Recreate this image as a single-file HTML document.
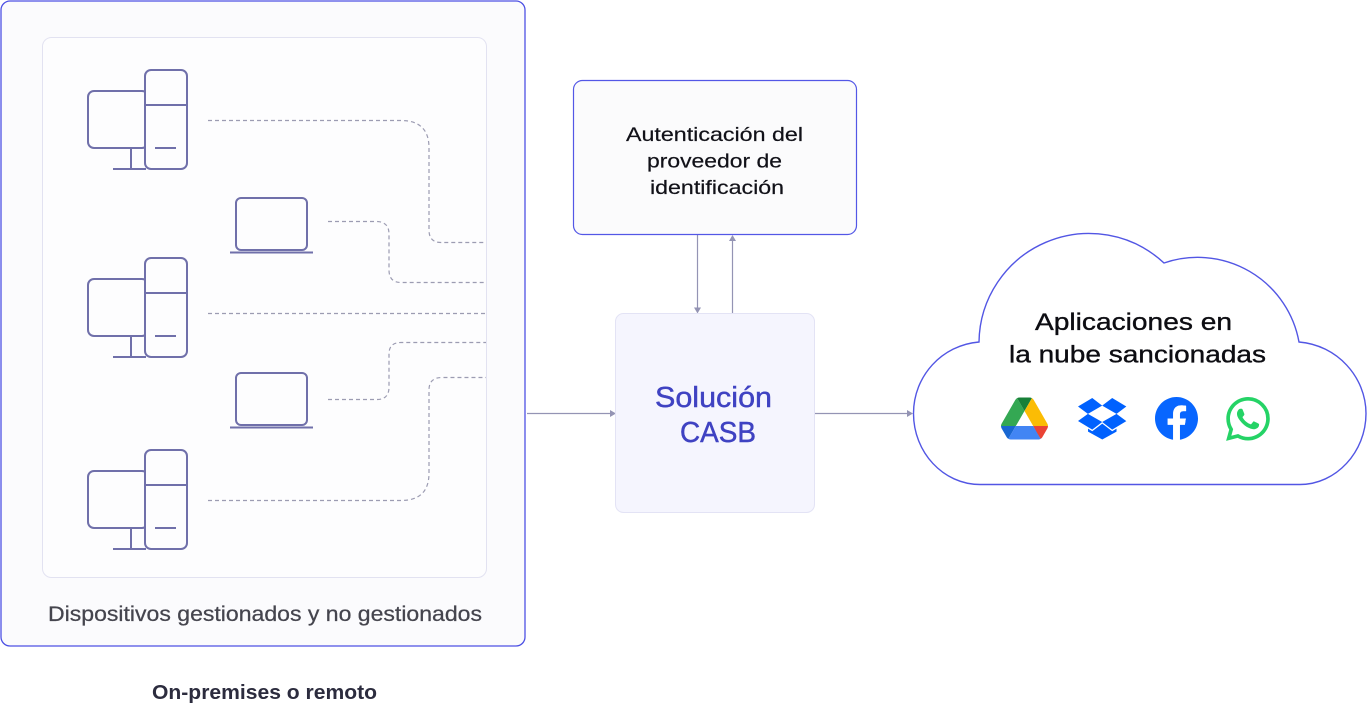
<!DOCTYPE html>
<html>
<head>
<meta charset="utf-8">
<style>
  html,body{margin:0;padding:0;background:#ffffff;}
  svg{display:block;}
  text{font-family:"Liberation Sans", Arial, sans-serif;}
</style>
</head>
<body>
<svg width="1367" height="705" viewBox="0 0 1367 705" xmlns="http://www.w3.org/2000/svg">
  <!-- Outer box -->
  <rect x="1" y="1" width="524" height="645" rx="9" fill="#fbfbfd" stroke="#4d51e4" stroke-width="1.3"/>
  <!-- Inner box -->
  <rect x="42.5" y="37.5" width="444" height="540" rx="9" fill="#fdfdfe" stroke="#e2e2f1" stroke-width="1"/>

  <!-- Dashed connectors -->
  <g fill="none" stroke="#9c9cb2" stroke-width="1.2" stroke-dasharray="4 3">
    <path d="M208 120.5 H401 Q429 120.5 429 148 V230 Q429 242.5 441 242.5 H486"/>
    <path d="M328 221.5 H376 Q389 221.5 389 234 V270 Q389 282.5 401 282.5 H486"/>
    <path d="M208 313.5 H486"/>
    <path d="M328 399.5 H377 Q389 399.5 389 387 V354 Q389 342.5 401 342.5 H486"/>
    <path d="M208 500.5 H401 Q429 500.5 429 473 V390 Q429 377.5 442 377.5 H486"/>
  </g>

  <g fill="#fdfdfe" stroke="#7070aa" stroke-width="2" stroke-linecap="butt">
    <!-- Desktop 1 -->
    <g transform="translate(0,0)">
      <rect x="88" y="91" width="60" height="57" rx="6"/>
      <line x1="131" y1="148" x2="131" y2="169"/>
      <line x1="113" y1="169" x2="146" y2="169"/>
      <rect x="145" y="70" width="42" height="99" rx="6"/>
      <line x1="145" y1="105" x2="187" y2="105"/>
      <line x1="155" y1="148" x2="176" y2="148"/>
    </g>
    <!-- Desktop 2 -->
    <g transform="translate(0,188)">
      <rect x="88" y="91" width="60" height="57" rx="6"/>
      <line x1="131" y1="148" x2="131" y2="169"/>
      <line x1="113" y1="169" x2="146" y2="169"/>
      <rect x="145" y="70" width="42" height="99" rx="6"/>
      <line x1="145" y1="105" x2="187" y2="105"/>
      <line x1="155" y1="148" x2="176" y2="148"/>
    </g>
    <!-- Desktop 3 -->
    <g transform="translate(0,380)">
      <rect x="88" y="91" width="60" height="57" rx="6"/>
      <line x1="131" y1="148" x2="131" y2="169"/>
      <line x1="113" y1="169" x2="146" y2="169"/>
      <rect x="145" y="70" width="42" height="99" rx="6"/>
      <line x1="145" y1="105" x2="187" y2="105"/>
      <line x1="155" y1="148" x2="176" y2="148"/>
    </g>
    <!-- Laptop 1 -->
    <g transform="translate(0,0)">
      <rect x="236" y="198" width="71" height="52" rx="5"/>
      <line x1="230" y1="252.5" x2="313" y2="252.5"/>
    </g>
    <!-- Laptop 2 -->
    <g transform="translate(0,175)">
      <rect x="236" y="198" width="71" height="52" rx="5"/>
      <line x1="230" y1="252.5" x2="313" y2="252.5"/>
    </g>
  </g>

  <!-- Labels in left panel -->
  <text x="48" y="621" font-size="21" fill="#45454e" stroke="#45454e" stroke-width="0.25" textLength="434" lengthAdjust="spacingAndGlyphs">Dispositivos gestionados y no gestionados</text>
  <text x="152" y="699" font-size="20" font-weight="bold" fill="#2c2c3e" textLength="225" lengthAdjust="spacingAndGlyphs">On-premises o remoto</text>

  <!-- Arrows -->
  <g stroke="#9494b4" stroke-width="1.2" fill="none">
    <line x1="527" y1="413.5" x2="611" y2="413.5"/>
    <line x1="815" y1="413.5" x2="908" y2="413.5"/>
    <line x1="697.5" y1="235" x2="697.5" y2="308"/>
    <line x1="732.5" y1="313" x2="732.5" y2="240"/>
  </g>
  <g fill="#9494b4">
    <polygon points="610,410 616,413.5 610,417"/>
    <polygon points="907,410 913,413.5 907,417"/>
    <polygon points="694,307.5 697.5,313.5 701,307.5"/>
    <polygon points="729,241 732.5,235 736,241"/>
  </g>

  <!-- Auth box -->
  <rect x="573.5" y="80.5" width="283" height="154" rx="9" fill="#fbfbfc" stroke="#5357e6" stroke-width="1.2"/>
  <g fill="#111118" stroke="#111118" stroke-width="0.2" font-size="19.5">
    <text x="626" y="141" textLength="177" lengthAdjust="spacingAndGlyphs">Autenticación del</text>
    <text x="647" y="167.5" textLength="135" lengthAdjust="spacingAndGlyphs">proveedor de</text>
    <text x="650" y="194" textLength="134" lengthAdjust="spacingAndGlyphs">identificación</text>
  </g>

  <!-- CASB box -->
  <rect x="615.5" y="313.5" width="199" height="199" rx="8" fill="#f5f5fe" stroke="#e3e3f5" stroke-width="1"/>
  <text x="655" y="407" font-size="29" fill="#3f42c2" stroke="#3f42c2" stroke-width="0.45" textLength="117" lengthAdjust="spacingAndGlyphs">Solución</text>
  <text x="680" y="442" font-size="29" fill="#3f42c2" stroke="#3f42c2" stroke-width="0.45" textLength="76" lengthAdjust="spacingAndGlyphs">CASB</text>

  <!-- Cloud -->
  <path d="M980 484.5
           C943 484.5 913.5 452 913.5 413.5
           C913.5 376 942 345 979 342
           A110 110 0 0 1 1164 263
           A103 103 0 0 1 1299 342
           C1337 345 1366 377 1366 413.5
           C1366 452 1336 484.5 1300 484.5 Z"
        fill="#ffffff" stroke="#5256e4" stroke-width="1.4"/>
  <text x="1035" y="330" font-size="24" fill="#0d0d12" stroke="#0d0d12" stroke-width="0.35" textLength="197" lengthAdjust="spacingAndGlyphs">Aplicaciones en</text>
  <text x="1009" y="362.5" font-size="24" fill="#0d0d12" stroke="#0d0d12" stroke-width="0.35" textLength="257" lengthAdjust="spacingAndGlyphs">la nube sancionadas</text>

  <!-- Google Drive -->
  <g transform="translate(1001,397.5) scale(0.5384)">
    <path d="m6.6 66.85 3.85 6.65c.8 1.4 1.95 2.5 3.3 3.3l13.75-23.8h-27.5c0 1.55.4 3.1 1.2 4.5z" fill="#1967d2"/>
    <path d="m43.65 25-13.75-23.8c-1.35.8-2.5 1.9-3.3 3.3l-25.4 44a9.06 9.06 0 0 0 -1.2 4.5h27.5z" fill="#34a853"/>
    <path d="m73.55 76.8c1.35-.8 2.5-1.9 3.3-3.3l1.6-2.75 7.65-13.25c.8-1.4 1.2-2.950 1.2-4.5h-27.502l5.852 11.5z" fill="#ea4335"/>
    <path d="m43.65 25 13.75-23.8c-1.35-.8-2.9-1.2-4.5-1.2h-18.5c-1.6 0-3.15.45-4.5 1.2z" fill="#188038"/>
    <path d="m59.8 53h-32.3l-13.75 23.8c1.35.8 2.9 1.2 4.5 1.2h50.8c1.6 0 3.15-.45 4.5-1.2z" fill="#4285f4"/>
    <path d="m73.4 26.5-12.7-22c-.8-1.4-1.95-2.5-3.3-3.3l-13.75 23.8 16.15 28h27.45c0-1.55-.4-3.1-1.2-4.5z" fill="#fbbc04"/>
  </g>

  <!-- Dropbox -->
  <g transform="translate(1078,398) scale(1.14,1.05)">
    <path d="m12.5 0l-12.5 8.1 8.7 7 12.5-7.8-8.7-7.3zm-12.5 21.9l12.5 8.2 8.7-7.3-12.5-7.7-8.7 6.8zm21.2 0.9l8.8 7.3 12.4-8.1-8.6-6.9-12.6 7.7zm21.2-14.7l-12.4-8.1-8.8 7.3 12.6 7.8 8.6-7zm-21.1 16.3l-8.8 7.3-3.7-2.5v2.8l12.5 7.5 12.5-7.5v-2.8l-3.8 2.5-8.7-7.3z" fill="#0061fe"/>
  </g>

  <!-- Facebook -->
  <g transform="translate(1155,397) scale(0.042)">
    <path d="M1024,512C1024,229.23,794.77,0,512,0S0,229.23,0,512c0,255.55,187.23,467.37,432,505.780V660H302V512H432V399.2C432,270.88,508.44,200,625.39,200c56,0,114.61,10,114.61,10V336H675.44c-63.6,0-83.44,39.47-83.44,80v96H734L711.3,660H592v357.78C836.77,979.37,1024,767.55,1024,512Z" fill="#0866ff"/>
    <path d="M711.3,660,734,512H592V416c0-40.49,19.84-80,83.44-80H740V210s-58.59-10-114.61-10C508.44,200,432,270.88,432,399.2V512H302V660H432v357.78a517.58,517.58,0,0,0,160,0V660Z" fill="#ffffff"/>
  </g>

  <!-- WhatsApp -->
  <g transform="translate(1226,397) scale(1.83)">
    <path d="M17.472 14.382c-.297-.149-1.758-.867-2.030-.967-.273-.099-.471-.148-.67.15-.197.297-.767.966-.94 1.164-.173.199-.347.223-.644.075-.297-.15-1.255-.463-2.39-1.475-.883-.788-1.48-1.761-1.653-2.059-.173-.297-.018-.458.13-.606.134-.133.298-.347.446-.52.149-.174.198-.298.298-.497.099-.198.05-.371-.025-.52-.075-.149-.669-1.612-.916-2.207-.242-.579-.487-.5-.669-.51-.173-.008-.371-.01-.57-.01-.198 0-.52.074-.792.372-.272.297-1.04 1.016-1.04 2.479 0 1.462 1.065 2.875 1.213 3.074.149.198 2.096 3.2 5.077 4.487.709.306 1.262.489 1.694.625.712.227 1.36.195 1.871.118.571-.085 1.758-.719 2.006-1.413.248-.694.248-1.289.173-1.413-.074-.124-.272-.198-.57-.347m-5.421 7.403h-.004a9.87 9.87 0 01-5.031-1.378l-.361-.214-3.741.982.998-3.648-.235-.374a9.86 9.86 0 01-1.51-5.26c.001-5.45 4.436-9.884 9.888-9.884 2.64 0 5.122 1.03 6.988 2.898a9.825 9.825 0 012.893 6.994c-.003 5.45-4.437 9.884-9.885 9.884m8.413-18.297A11.815 11.815 0 0012.05 0C5.495 0 .16 5.335.157 11.892c0 2.096.547 4.142 1.588 5.945L.057 24l6.305-1.654a11.882 11.882 0 005.683 1.448h.005c6.554 0 11.89-5.335 11.893-11.893a11.821 11.821 0 00-3.48-8.413Z" fill="#25d366"/>
  </g>
</svg>
</body>
</html>
